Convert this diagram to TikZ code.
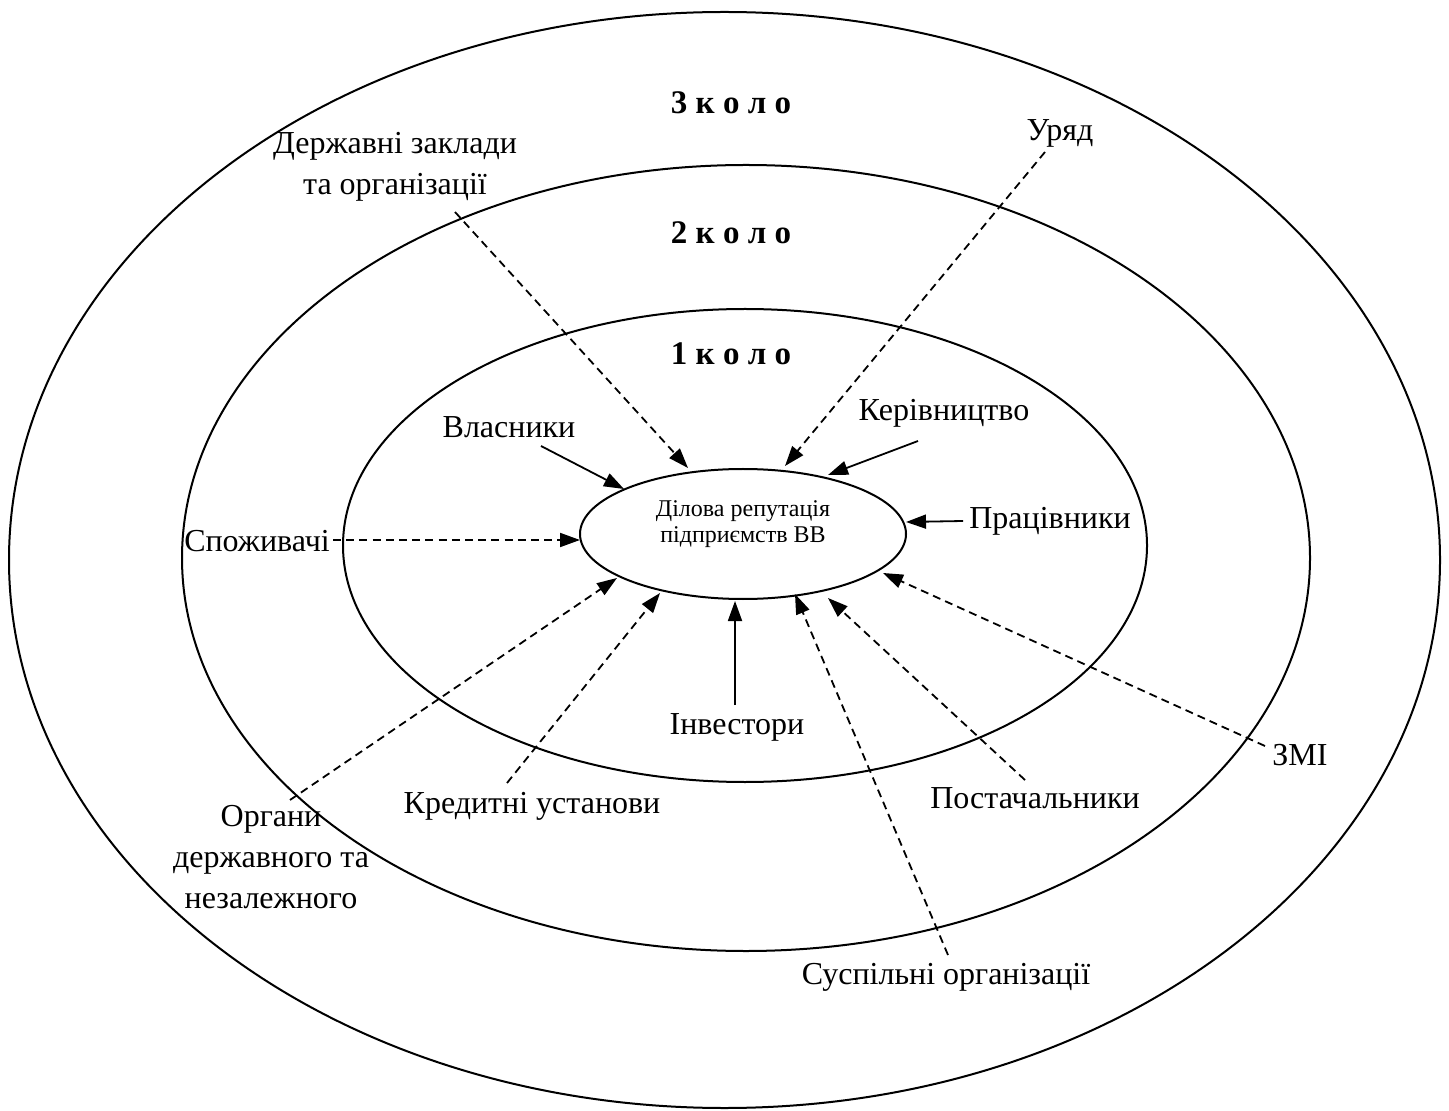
\documentclass[tikz,border=0pt]{standalone}
\usepackage{fontspec}
\setmainfont{Liberation Serif}
\usetikzlibrary{arrows.meta,shapes.geometric}

\tikzset{
  ring/.style={line width=1pt},
  lbl/.style={font=\fontsize{16}{20.7}\selectfont, align=center, inner sep=0pt},
  circlabel/.style={font=\fontsize{16.5}{20}\selectfont\bfseries, inner sep=0pt},
  repbox/.style={draw, ellipse, line width=1pt, minimum width=163pt, minimum height=65pt, inner sep=0pt},
  reptext/.style={font=\fontsize{12}{13}\selectfont, align=center, inner sep=0pt},
  arr/.style={line width=0.9pt, -{Triangle[length=10pt,width=7pt]}},
  darr/.style={arr, dash pattern=on 4pt off 2.6pt}
}

\begin{document}
\begin{tikzpicture}[x=0.5pt, y=-0.5pt]
  \useasboundingbox (0,0) rectangle (1449,1111);

  % three rings of stakeholders
  \draw[ring] (724.5,560) ellipse [x radius=357.75pt, y radius=274pt];
  \draw[ring] (746,558) ellipse [x radius=282pt, y radius=196.5pt];
  \draw[ring] (745,545.5) ellipse [x radius=201pt, y radius=118.25pt];

  % core: business reputation
  \node[repbox] (rep) at (743,534) {};
  \node[reptext] (reptxt) at (743,524) {Ділова репутація\\підприємств ВВ};

  % ring titles
  \node[circlabel] (k3) at (731,103) {3 к о л о};
  \node[circlabel] (k2) at (731,233) {2 к о л о};
  \node[circlabel] (k1) at (731,354) {1 к о л о};

  % stakeholder labels
  \node[lbl] (gov)  at (395,167) {Державні заклади\\та організації};
  \node[lbl] (uriad) at (1060,133) {Уряд};
  \node[lbl] (vlas) at (509,427) {Власники};
  \node[lbl] (ker)  at (944,413) {Керівництво};
  \node[lbl] (prac) at (1050,521) {Працівники};
  \node[lbl] (spoz) at (257,541) {Споживачі};
  \node[lbl] (inv)  at (737,727) {Інвестори};
  \node[lbl] (kred) at (532,806) {Кредитні установи};
  \node[lbl] (post) at (1035,798) {Постачальники};
  \node[lbl] (zmi)  at (1300,755) {ЗМІ};
  \node[lbl] (org)  at (271,857) {Органи\\державного та\\незалежного};
  \node[lbl] (susp) at (946,977) {Суспільні організації};

  % connector ends
  \coordinate (sGov)  at (455,212);  \coordinate (tGov)  at (688,468);
  \coordinate (sUr)   at (1045,152); \coordinate (tUr)   at (785,466);
  \coordinate (sVl)   at (541,446);  \coordinate (tVl)   at (624,489);
  \coordinate (sKer)  at (918,441);  \coordinate (tKer)  at (828,475);
  \coordinate (sPr)   at (963,521);  \coordinate (tPr)   at (906,522);
  \coordinate (sSp)   at (333,540);  \coordinate (tSp)   at (580,540);
  \coordinate (sOrg)  at (290,800);  \coordinate (tOrg)  at (617,578);
  \coordinate (sKr)   at (507,783);  \coordinate (tKr)   at (660,593);
  \coordinate (sInv)  at (735,705);  \coordinate (tInv)  at (735,601);
  \coordinate (sSu)   at (948,955);  \coordinate (tSu)   at (795,594);
  \coordinate (sPo)   at (1025,780); \coordinate (tPo)   at (828,598);
  \coordinate (sZ)    at (1265,746); \coordinate (tZ)    at (883,573);

  % first ring: solid influences
  \draw[arr] (sVl) -- (tVl);
  \draw[arr] (sKer) -- (tKer);
  \draw[arr] (sPr) -- (tPr);
  \draw[arr] (sInv) -- (tInv);

  % outer rings: dashed influences
  \draw[darr] (sGov) -- (tGov);
  \draw[darr] (sUr) -- (tUr);
  \draw[darr] (sSp) -- (tSp);
  \draw[darr] (sOrg) -- (tOrg);
  \draw[darr] (sKr) -- (tKr);
  \draw[darr] (sSu) -- (tSu);
  \draw[darr] (sPo) -- (tPo);
  \draw[darr] (sZ) -- (tZ);
\end{tikzpicture}
\end{document}
